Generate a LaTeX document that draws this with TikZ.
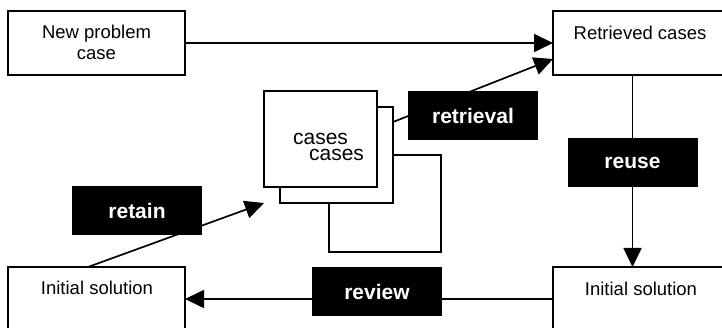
\documentclass[tikz,border=0pt]{standalone}
\usepackage{fontspec}
\setmainfont{Liberation Sans}
\usetikzlibrary{arrows.meta}
\begin{document}
\begin{tikzpicture}[x=1pt,y=-1pt,
  every node/.style={inner sep=0pt,outer sep=0pt},
  plainbox/.style={draw,line width=1.7pt,fill=white,minimum width=177pt,minimum height=64pt},
  sheet/.style={draw,line width=1.7pt,fill=white,minimum width=113pt,minimum height=96pt},
  stage/.style={fill=black,text=white,minimum width=130pt,minimum height=49pt,
    font=\fontsize{21}{24}\selectfont\bfseries},
  txt/.style={font=\fontsize{18.5}{21}\selectfont,align=center},
  conn/.style={line width=1.7pt},
  arr/.style={conn,-{Triangle[length=19pt,width=18pt]}}]
\useasboundingbox (0,0) rectangle (722,328);

% process boxes
\node[plainbox] (newcase) at (96.5,43) {};
\node[txt] (newcasetxt) at (96.5,42) {New problem\\case};
\node[plainbox] (ret) at (641.5,43) {};
\node[txt] (rettxt) at (640,33) {Retrieved cases};
\node[plainbox] (solL) at (96.5,299) {};
\node[txt] (solLtxt) at (97,288) {Initial solution};
\node[plainbox] (solR) at (641.5,299) {};
\node[txt] (solRtxt) at (641,289) {Initial solution};

% stack of case sheets
\node[sheet,minimum width=112pt,minimum height=97pt] (back) at (385,203.5) {};
\node[sheet] (mid) at (336.5,155) {};
\node[sheet] (front) at (320.5,139) {};
\node[font=\fontsize{21}{24}\selectfont] (c1) at (320.5,139) {cases};
\node[font=\fontsize{21}{24}\selectfont] (c2) at (336.5,155) {cases};

% connector end points
\coordinate (retin) at (553,59);
\coordinate (midout) at (393,122);
\coordinate (retainfrom) at (88,267);
\coordinate (retainto) at (264,203);
\coordinate (vx) at (632.5,163);

% connectors
\draw[arr] (newcase.east) -- (newcase.east -| ret.west);
\draw[arr] (midout) -- (retin);
\draw[arr] (ret.south -| vx) -- (solR.north -| vx);
\draw[arr] (solR.west) -- (solL.east);
\draw[arr] (retainfrom) -- (retainto);

% stage labels
\node[stage] (retrieval) at (473,115.5) {retrieval};
\node[stage] (reuse) at (632.5,163) {reuse};
\node[stage] (review) at (377,291.5) {review};
\node[stage] (retain) at (137,211) {retain};
\end{tikzpicture}
\end{document}
